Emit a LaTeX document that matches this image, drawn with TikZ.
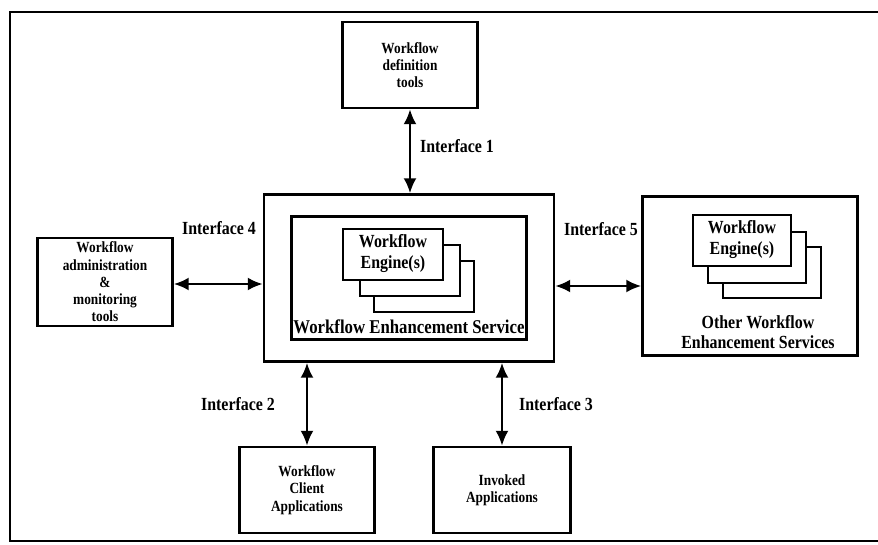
\documentclass[tikz,border=0pt]{standalone}
\usepackage{fontspec}
\setmainfont{Liberation Serif}[FakeStretch=0.86]
\usetikzlibrary{positioning, arrows.meta}

\begin{document}
\begin{tikzpicture}[
        x=1pt, y=-1pt,
        box/.style={draw, line width=2.4pt, fill=white, align=center, inner sep=0pt,
            font=\bfseries\fontsize{15.5}{17.3}\selectfont},
        engbox/.style={draw, line width=2pt, fill=white, align=center, inner sep=0pt,
            minimum width=100pt, minimum height=51pt,
            font=\bfseries\fontsize{18.5}{21}\selectfont},
        iface/.style={line width=2.6pt,
            {Latex[length=15pt,width=13pt]}-{Latex[length=15pt,width=13pt]}},
        lbl/.style={align=center, font=\bfseries\fontsize{18.5}{20}\selectfont},
    ]
    \useasboundingbox (0,0) rectangle (878,544);
    % frame of the scanned page
    \draw[line width=1.8pt] (878,12) -| (10,541) -- (878,541);

    % top and sides
    \node[box, minimum width=135pt, minimum height=86pt] (deftools) at (410,65)
        {Workflow\\definition\\tools};
    \node[box, minimum width=135pt, minimum height=88pt] (admin) at (105,282)
        {Workflow\\administration\\\&\\monitoring\\tools};

    % workflow enhancement service
    \node[box, minimum width=290pt, minimum height=167pt] (wes) at (409,278) {};
    \node[box, minimum width=235pt, minimum height=123pt] (wesin) at (409,278) {};
    \node[engbox] (engc) at (424,286) {};
    \node[engbox] (engb) at (410,270) {};
    \node[engbox] (eng) at (393,254) {Workflow\\Engine(s)};
    \node[lbl, font=\bfseries\fontsize{19.5}{20}\selectfont] (wesname) at (409,327)
        {Workflow Enhancement Service};

    % other services
    \node[box, minimum width=215pt, minimum height=159pt] (other) at (750,276) {};
    \node[engbox, minimum width=98pt] (oengc) at (772,272) {};
    \node[engbox, minimum width=98pt] (oengb) at (757,257) {};
    \node[engbox, minimum width=98pt] (oeng) at (742,240) {Workflow\\Engine(s)};
    \node[lbl] (othername) at (758,332) {Other Workflow\\Enhancement Services};

    % bottom
    \node[box, minimum width=135pt, minimum height=86pt] (client) at (307,490)
        {Workflow\\Client\\Applications};
    \node[box, minimum width=137pt, minimum height=86pt] (invoked) at (502,490)
        {Invoked\\Applications};

    % interfaces
    \draw[iface] (deftools.south) -- (deftools.south |- wes.north);
    \draw[iface] (admin.east |- 0,284) -- (wes.west |- 0,284);
    \draw[iface] (wes.east |- 0,286) -- (other.west |- 0,286);
    \draw[iface] (client.north) -- (client.north |- wes.south);
    \draw[iface] (invoked.north) -- (invoked.north |- wes.south);

    \node[lbl] (if1) at (457,146) {Interface 1};
    \node[lbl] (if4) at (219,228) {Interface 4};
    \node[lbl] (if5) at (601,229) {Interface 5};
    \node[lbl] (if2) at (238,404) {Interface 2};
    \node[lbl] (if3) at (556,404) {Interface 3};
\end{tikzpicture}
\end{document}
